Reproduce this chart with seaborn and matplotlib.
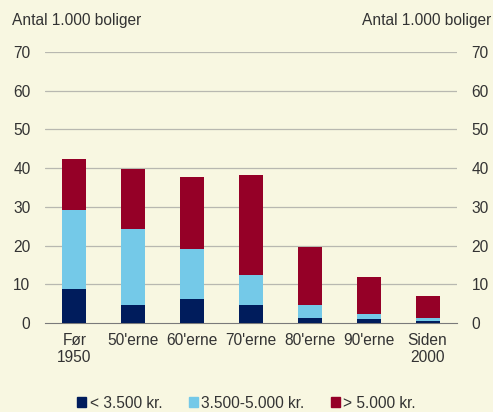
import matplotlib
matplotlib.use("Agg")
import matplotlib.pyplot as plt
import seaborn as sns
import pandas as pd
import numpy as np

categories = ["Før\n1950", "50'erne", "60'erne", "70'erne", "80'erne", "90'erne", "Siden\n2000"]
under_3500 = [8.9, 4.7, 6.1, 4.7, 1.2, 0.95, 0.5]
mellem_3500_5000 = [20.3, 19.5, 13.1, 7.7, 3.4, 1.45, 0.7]
over_5000 = [13.1, 15.5, 18.4, 25.8, 15.1, 9.5, 5.7]
series_labels = ["< 3.500 kr.", "3.500-5.000 kr.", "> 5.000 kr."]
colors = ["#001c5c", "#74c9e8", "#950027"]
bg = "#f8f7e1"
fs = 11.2

df = pd.DataFrame({
    "kategori": categories,
    "lav": under_3500,
    "mellem": mellem_3500_5000,
    "hoej": over_5000,
})
df["top_mellem"] = df["lav"] + df["mellem"]
df["top_hoej"] = df["top_mellem"] + df["hoej"]

sns.set_style("white")
plt.rcParams["font.family"] = ["Liberation Sans", "DejaVu Sans"]
plt.rcParams["font.size"] = fs

fig = plt.figure(figsize=(4.93, 4.12), dpi=100, facecolor=bg)
ax = fig.add_axes([45 / 493, 1 - 323 / 412, 412 / 493, 271 / 412])
ax.set_facecolor(bg)

# stacked bars: tallest first, then overlay the lower parts
for col, c in zip(["top_hoej", "top_mellem", "lav"], colors[::-1]):
    sns.barplot(data=df, x="kategori", y=col, color=c, width=0.41,
                saturation=1, linewidth=0, ax=ax, zorder=3)

ax.set_ylim(0, 70)
ax.set_xlim(-0.5, 6.5)
ax.set_yticks(range(0, 71, 10))
for y in range(10, 71, 10):
    ax.axhline(y, color="#b8b8b0", lw=0.9, zorder=1)
ax.set_xlabel("")
ax.set_ylabel("")
for s in ["top", "right", "left"]:
    ax.spines[s].set_visible(False)
ax.spines["bottom"].set_color("#7a7a7a")
ax.tick_params(axis="y", length=0, pad=10.5, labelsize=fs, colors="#333333")
ax.set_xticks(np.arange(7))
ax.set_xticklabels(categories, fontsize=fs, color="#333333")
ax.tick_params(axis="x", length=0, pad=7)
ax.set_xticks(np.arange(-0.5, 7, 1), minor=True)
ax.tick_params(axis="x", which="minor", length=5, color="#7a7a7a", direction="out")

ax2 = ax.twinx()
ax2.set_ylim(0, 70)
ax2.set_yticks(range(0, 71, 10))
for s in ["top", "right", "left", "bottom"]:
    ax2.spines[s].set_visible(False)
ax2.tick_params(axis="y", length=0, pad=10.5, labelsize=fs, colors="#333333")

fig.text(12 / 493, 1 - 20 / 412, "Antal 1.000 boliger", fontsize=fs, color="#333333", va="center")
fig.text(491 / 493, 1 - 20 / 412, "Antal 1.000 boliger", fontsize=fs, color="#333333",
         va="center", ha="right")

handles = [plt.Rectangle((0, 0), 1, 1, color=c) for c in colors]
fig.legend(handles, series_labels, loc="center", bbox_to_anchor=(0.5, 1 - 403 / 412),
           ncol=3, frameon=False, fontsize=fs, handlelength=0.6, handleheight=0.6,
           handletextpad=0.2, columnspacing=1.7, labelcolor="#333333")

fig.savefig("out.png", dpi=100, facecolor=bg)
